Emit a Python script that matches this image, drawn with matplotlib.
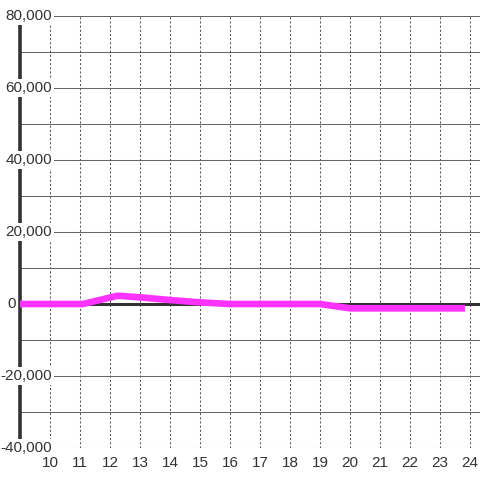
import numpy as np
import matplotlib.pyplot as plt
import matplotlib.transforms as mtransforms

plt.rcParams['font.family'] = ['Liberation Sans', 'DejaVu Sans']

# magenta series (hour of day, value)
hours = [9, 10, 11, 11.1, 12.25, 13, 14, 15, 16, 17, 18, 19, 20, 21, 22, 23, 23.83]
values = [0, 0, 0, 0, 2300, 1850, 1100, 450, 0, 0, 0, 0, -1200, -1200, -1200, -1200, -1200]

x_ticks = list(range(10, 25))
y_major = [80000, 60000, 40000, 20000, 0, -20000, -40000]
y_minor = [70000, 50000, 30000, 10000, -10000, -30000]
y_labels = ['80,000', '60,000', '40,000', '20,000', '0', '-20,000', '-40,000']

fig = plt.figure(figsize=(4.8, 4.8), dpi=100)
ax = fig.add_axes([20/480, 32/480, 460/480, 432/480])

ax.set_xlim(9, 24 + 1/3)
ax.set_ylim(-40000, 80000)

# grid
ax.set_xticks(x_ticks)
ax.set_yticks(sorted(y_major + y_minor))
ax.set_yticklabels([])
ax.grid(axis='x', color='#555555', lw=0.75, ls=(0, (2, 2)), zorder=0.5)
ax.grid(axis='y', color='#666666', lw=0.75, ls='-', zorder=0.5)
ax.tick_params(axis='both', length=0)
ax.tick_params(axis='x', pad=6, labelsize=11, labelcolor='#333333')

for s in ['top', 'right', 'bottom']:
    ax.spines[s].set_visible(False)
ax.spines['left'].set_color('#333333')
ax.spines['left'].set_linewidth(2.6)

# y labels sit inside the plot with white boxes
trans = mtransforms.blended_transform_factory(ax.transAxes, ax.transData)
for v, lab in zip(y_major, y_labels):
    xpos = (16 - 20) / 460 if lab == '0' else (52 - 20) / 460
    ax.text(xpos, v, lab, transform=trans, ha='right', va='center',
            fontsize=11, color='#333333', zorder=3, clip_on=False,
            bbox=dict(facecolor='white', edgecolor='none', pad=1.5))

# zero line
ax.axhline(0, color='#333333', lw=2.2, zorder=4)

ax.plot(hours, values, color='#ff33ff', lw=4.8, zorder=5,
        solid_capstyle='butt', solid_joinstyle='round', clip_on=False)

fig.savefig('out.png', dpi=100)
